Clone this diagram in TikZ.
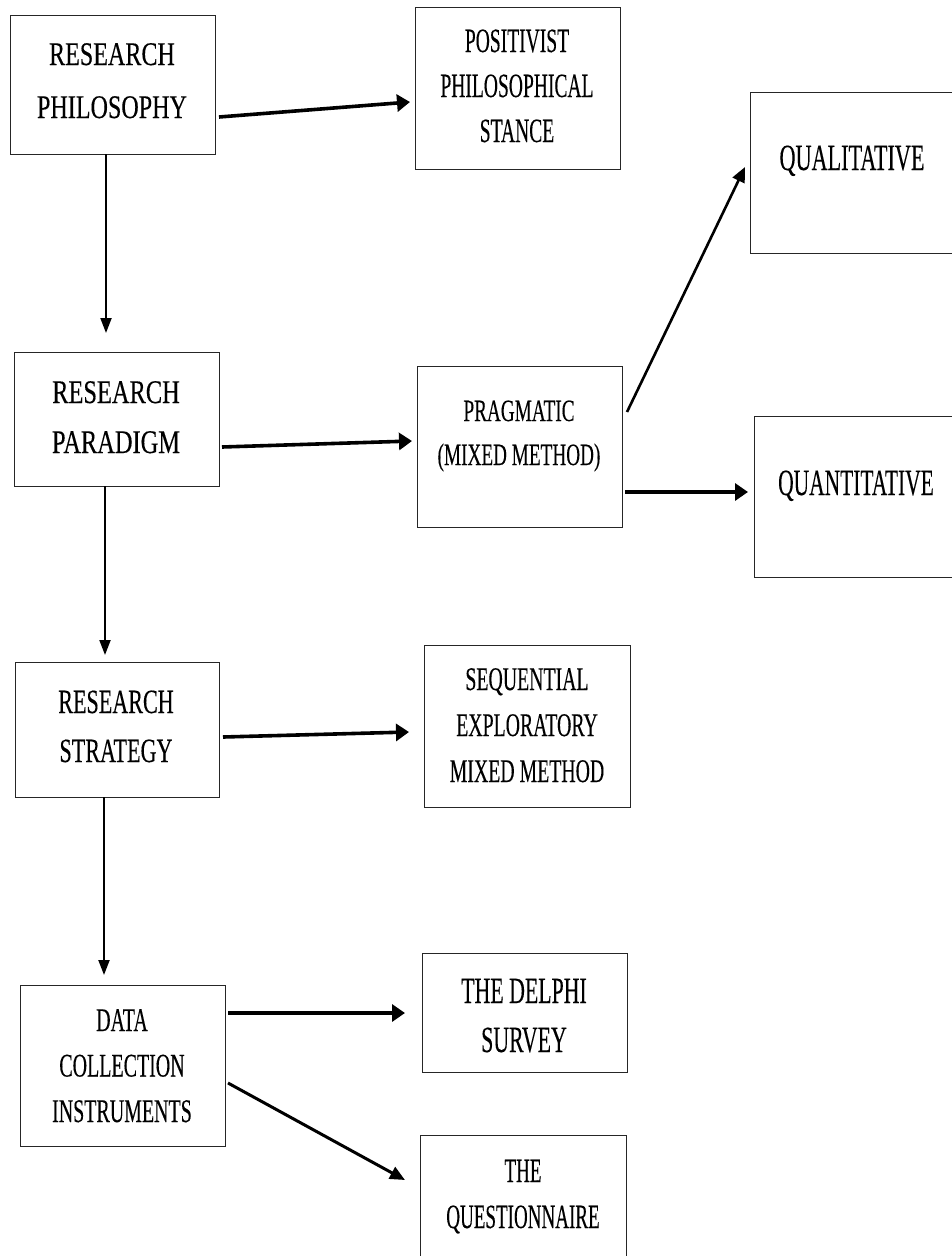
\documentclass[tikz,border=0pt]{standalone}
\usepackage{fontspec}
\setmainfont{Liberation Serif}
\newfontfamily\condfont[FakeBold=0.3]{Liberation Serif}
\usepackage{graphicx}
\usetikzlibrary{arrows.meta}
\newcommand{\cbox}[4]{{\condfont\fontsize{#1}{#2}\selectfont\scalebox{#3}[1]{\begin{tabular}[t]{@{}c@{}}#4\end{tabular}}}}
\begin{document}
\begin{tikzpicture}[x=1pt,y=-1pt,
  box/.style={draw=black!85, line width=1.3pt, inner sep=0pt, anchor=north west},
  lbl/.style={inner sep=0pt, anchor=base, text=black},
  thickarr/.style={line width=3.6pt, -{Triangle[length=13pt,width=17pt]}},
  thinarr/.style={line width=2pt, -{Triangle[length=15pt,width=11pt]}},
  midarr/.style={line width=2.6pt, -{Triangle[length=15pt,width=13pt]}}]
\useasboundingbox (0,0) rectangle (952,1256);
\clip (0,0) rectangle (952,1256);
\fill[white] (0,0) rectangle (952,1256);

% boxes
\node[box, minimum width=205pt, minimum height=139pt] (A) at (10,15) {};
\node[box, minimum width=205pt, minimum height=162pt] (B) at (415,7) {};
\node[box, minimum width=260pt, minimum height=161pt] (C) at (750,92) {};
\node[box, minimum width=205pt, minimum height=134pt] (D) at (14,352) {};
\node[box, minimum width=205pt, minimum height=161pt] (E) at (417,366) {};
\node[box, minimum width=260pt, minimum height=161pt] (F) at (754,416) {};
\node[box, minimum width=204pt, minimum height=135pt] (G) at (15,662) {};
\node[box, minimum width=206pt, minimum height=162pt] (H) at (424,645) {};
\node[box, minimum width=205pt, minimum height=161pt] (I) at (20,985) {};
\node[box, minimum width=205pt, minimum height=119pt] (J) at (422,953) {};
\node[box, minimum width=206pt, minimum height=160pt] (K) at (420,1135) {};

% labels
\node[lbl] (tA) at (112,65) {\cbox{33}{53}{0.73}{RESEARCH\\PHILOSOPHY}};
\node[lbl] (tB) at (517,52) {\cbox{34}{45}{0.575}{POSITIVIST\\PHILOSOPHICAL\\STANCE}};
\node[lbl] (tC) at (852,170) {\cbox{37}{45}{0.6}{QUALITATIVE}};
\node[lbl] (tD) at (116,403) {\cbox{33}{50}{0.74}{RESEARCH\\PARADIGM}};
\node[lbl] (tE) at (519,421) {\cbox{31}{44}{0.62}{PRAGMATIC\\(MIXED METHOD)}};
\node[lbl] (tF) at (856,495) {\cbox{37}{45}{0.58}{QUANTITATIVE}};
\node[lbl] (tG) at (116,713) {\cbox{34}{49}{0.65}{RESEARCH\\STRATEGY}};
\node[lbl] (tH) at (527,690) {\cbox{33}{46}{0.6}{SEQUENTIAL\\EXPLORATORY\\MIXED METHOD}};
\node[lbl] (tI) at (122,1031) {\cbox{33}{45.5}{0.605}{DATA\\COLLECTION\\INSTRUMENTS}};
\node[lbl] (tJ) at (524,1003) {\cbox{37}{49}{0.59}{THE DELPHI\\SURVEY}};
\node[lbl] (tK) at (523,1182) {\cbox{34}{46}{0.56}{THE\\QUESTIONNAIRE}};

% connector end points
\coordinate (a1) at (219,117);  \coordinate (b1) at (410,102);
\coordinate (a2) at (106,154);  \coordinate (d1) at (106,333);
\coordinate (d2) at (222,447);  \coordinate (e1) at (412,441);
\coordinate (e2) at (627,412);  \coordinate (c1) at (745,167);
\coordinate (e3) at (625,492);  \coordinate (f1) at (748,492);
\coordinate (d3) at (105,486);  \coordinate (g1) at (105,655);
\coordinate (g2) at (223,737);  \coordinate (h1) at (409,732);
\coordinate (g3) at (104,797);  \coordinate (i1) at (104,975);
\coordinate (i2) at (228,1013); \coordinate (j1) at (405,1013);
\coordinate (i3) at (228,1083); \coordinate (k1) at (405,1180);

% connectors
\draw[thickarr] (a1) -- (b1);
\draw[thinarr] (a2) -- (d1);
\draw[thickarr] (d2) -- (e1);
\draw[midarr] (e2) -- (c1);
\draw[thickarr] (e3) -- (f1);
\draw[thinarr] (d3) -- (g1);
\draw[thickarr] (g2) -- (h1);
\draw[thinarr] (g3) -- (i1);
\draw[thickarr] (i2) -- (j1);
\draw[midarr, line width=3pt] (i3) -- (k1);
\end{tikzpicture}
\end{document}
